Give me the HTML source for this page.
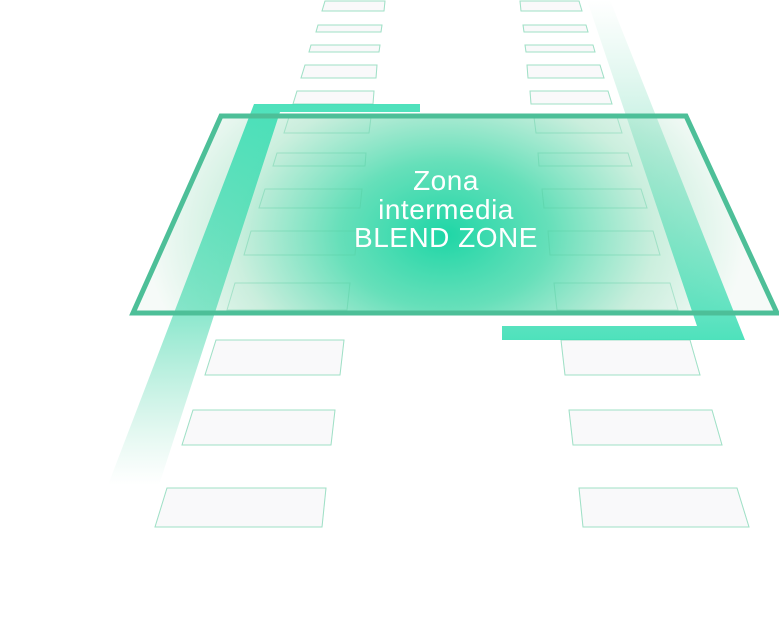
<!DOCTYPE html>
<html><head><meta charset="utf-8"><style>
html,body{margin:0;padding:0;background:#fff;}
svg{display:block;}
</style></head><body>
<svg width="779" height="630" viewBox="0 0 779 630" xmlns="http://www.w3.org/2000/svg">
<defs>
  <radialGradient id="rg" gradientUnits="userSpaceOnUse" cx="445" cy="235" r="300" gradientTransform="translate(445 235) scale(1 0.7) translate(-445 -235)">
    <stop offset="0" stop-color="#1ed6a6" stop-opacity="1"/>
    <stop offset="0.35" stop-color="#55dcb2" stop-opacity="0.9"/>
    <stop offset="0.7" stop-color="#c2ecd8" stop-opacity="0.85"/>
    <stop offset="1" stop-color="#f5faf7" stop-opacity="0.9"/>
  </radialGradient>
  <linearGradient id="lg" gradientUnits="userSpaceOnUse" x1="0" y1="104" x2="0" y2="485">
    <stop offset="0" stop-color="#2fdcb0" stop-opacity="0.85"/>
    <stop offset="0.55" stop-color="#3fd8ac" stop-opacity="0.6"/>
    <stop offset="1" stop-color="#7ad9b5" stop-opacity="0"/>
  </linearGradient>
  <linearGradient id="rgS" gradientUnits="userSpaceOnUse" x1="0" y1="0" x2="0" y2="340">
    <stop offset="0" stop-color="#8fe0c0" stop-opacity="0"/>
    <stop offset="0.4" stop-color="#6fdcb8" stop-opacity="0.4"/>
    <stop offset="1" stop-color="#2fdcb0" stop-opacity="0.85"/>
  </linearGradient>
  <g id="rows">
    <polygon points="325,1 385,1 384,11 322,11"/>
    <polygon points="318,25 382,25 381,32 316,32"/>
    <polygon points="311,45 380,45 379,52 309,52"/>
    <polygon points="305,65 377,65 376,78 301,78"/>
    <polygon points="297,91 374,91 373,104 293,104"/>
    <polygon points="289,117 371,117 369,133 284,133"/>
    <polygon points="277,153 366,153 365,166 273,166"/>
    <polygon points="265,189 362,189 360,208 259,208"/>
    <polygon points="251,231 357,231 355,255 244,255"/>
    <polygon points="235,283 350,283 347,310 227,310"/>
    <polygon points="216,340 344,340 340,375 205,375"/>
    <polygon points="193,410 335,410 331,445 182,445"/>
    <polygon points="167,488 326,488 322,527 155,527"/>
    <polygon points="520,1 579,1 582,11 521,11"/>
    <polygon points="523,25 586,25 588,32 524,32"/>
    <polygon points="525,45 593,45 595,52 526,52"/>
    <polygon points="527,65 600,65 604,78 528,78"/>
    <polygon points="530,91 608,91 612,104 531,104"/>
    <polygon points="534,117 617,117 622,133 536,133"/>
    <polygon points="538,153 628,153 632,166 539,166"/>
    <polygon points="542,189 641,189 647,208 544,208"/>
    <polygon points="548,231 653,231 660,255 550,255"/>
    <polygon points="554,283 670,283 678,310 557,310"/>
    <polygon points="561,340 690,340 700,375 565,375"/>
    <polygon points="569,410 712,410 722,445 573,445"/>
    <polygon points="579,488 737,488 749,527 583,527"/>
  </g>
</defs>
<use href="#rows" fill="#f9f9fa" stroke="#c4ebdb" stroke-width="1"/>
<polygon points="221,116 686,116 777,313 133,313" fill="url(#rg)"/>
<use href="#rows" fill="none" stroke="#5ccaa0" stroke-opacity="0.35" stroke-width="1"/>
<polygon points="254,104 420,104 420,112 280,112 159,485 108,485" fill="url(#lg)"/>
<polygon points="587,0 610,0 745,340 502,340 502,326 697,326" fill="url(#rgS)"/>
<polygon points="221,116 686,116 777,313 133,313" fill="none" stroke="#4dbf98" stroke-width="5" stroke-linejoin="miter"/>
<g font-family="Liberation Sans, sans-serif" font-size="28" fill="#ffffff" text-anchor="middle" letter-spacing="0.5">
  <text x="446" y="190">Zona</text>
  <text x="446" y="219">intermedia</text>
  <text x="446" y="247">BLEND ZONE</text>
</g>
</svg>
</body></html>
